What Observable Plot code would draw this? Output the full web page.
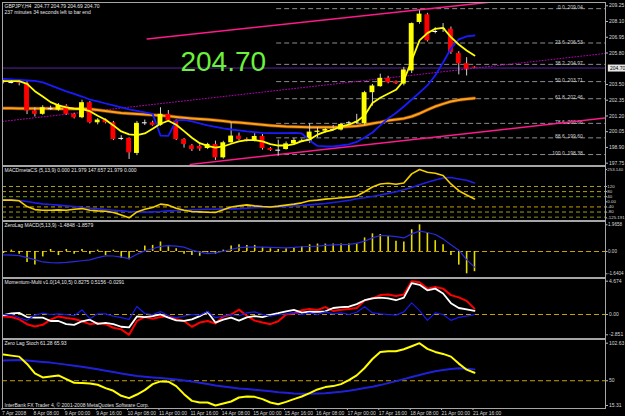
<!DOCTYPE html>
<html><head><meta charset="utf-8">
<script src="https://cdn.jsdelivr.net/npm/d3@7"></script>
<script src="https://cdn.jsdelivr.net/npm/@observablehq/plot@0.6"></script>
<style>
html,body{margin:0;padding:0;background:#000;}
#chart{position:relative;width:625px;height:416px;background:#000;overflow:hidden;}
#chart svg{position:absolute;left:0;}
</style></head><body><div id="chart"></div>
<script>
// ---------- DATA ----------
const timeLabels = ["7 Apr 2008","8 Apr 08:00","9 Apr 00:00","9 Apr 16:00","10 Apr 08:00","11 Apr 00:00","11 Apr 16:00","14 Apr 08:00","15 Apr 00:00","15 Apr 16:00","16 Apr 08:00","17 Apr 00:00","17 Apr 16:00","18 Apr 08:00","21 Apr 00:00","21 Apr 16:00"];
const timeLabelBars = [0,4,8,12,16,20,24,28,32,36,40,44,48,52,56,60];

const open = [203.70,203.62,203.66,203.58,201.56,201.32,201.74,201.63,201.92,201.32,
 201.07,202.17,200.70,200.90,200.70,199.57,199.56,198.46,200.69,200.70,
 200.51,201.32,200.83,199.48,199.02,198.98,198.82,199.12,198.14,199.24,
 199.73,199.48,199.36,199.70,198.82,198.71,198.75,199.16,199.37,199.34,
 200.00,200.09,200.22,200.17,200.71,200.76,200.63,202.90,203.34,203.95,
 203.70,203.53,204.49,208.03,208.59,207.38,207.61,207.54,205.76,205.02,
 204.77];
const high = [203.82,203.78,203.86,203.74,201.80,201.95,201.92,202.10,202.02,201.40,
 202.35,202.25,201.00,200.98,200.80,199.75,199.60,200.80,200.90,200.82,
 201.80,201.60,200.92,199.55,199.12,199.10,199.20,199.36,199.35,200.70,
 199.95,199.60,199.90,199.85,198.90,199.43,199.30,199.55,199.50,200.63,
 200.35,200.30,200.50,200.65,200.80,201.32,203.00,203.50,204.25,204.10,
 203.75,204.75,208.00,208.88,208.70,207.65,207.95,207.70,205.90,205.46,
 204.79];
const low = [203.55,203.55,203.40,201.30,201.12,201.25,201.60,201.55,201.25,200.98,
 201.00,200.62,200.55,200.62,199.40,199.40,198.02,198.30,200.50,200.45,
 200.45,200.75,199.40,198.85,198.60,198.62,198.75,197.95,198.05,199.20,
 199.40,199.30,199.30,198.70,198.60,198.26,198.70,199.10,199.25,199.20,
 199.60,199.95,200.10,200.10,200.60,200.60,200.50,201.92,203.30,203.55,
 203.50,203.40,204.30,207.90,206.60,207.20,207.30,205.70,204.20,204.12,
 204.69];
const close = [203.62,203.64,203.60,201.56,201.32,201.80,201.73,201.98,201.32,201.07,
 202.17,200.70,200.90,200.70,199.48,199.56,198.50,200.66,200.70,200.51,
 201.32,200.83,199.48,199.12,198.75,198.78,199.12,198.14,199.24,199.73,
 199.48,199.36,199.70,198.82,198.68,198.70,199.16,199.41,199.36,200.02,
 200.09,200.21,200.21,200.58,200.70,200.75,202.90,203.39,203.95,203.63,
 203.56,204.56,207.95,208.64,206.69,207.37,207.60,205.83,205.02,204.61,
 204.70];

const maYellow = [203.74,203.74,203.74,203.55,203.01,202.62,202.21,201.97,201.82,201.73,
 201.70,201.55,201.21,200.92,200.51,200.07,199.85,199.80,199.92,200.26,
 200.63,200.85,200.56,200.09,199.61,199.21,199.02,198.88,198.97,199.17,
 199.34,199.43,199.43,199.34,199.14,199.04,199.04,199.14,199.36,199.48,
 199.83,200.05,200.19,200.43,200.56,200.80,201.24,202.14,202.53,202.82,
 203.11,203.79,205.25,206.72,207.25,207.57,207.64,206.96,206.42,205.98,
 205.62];
const maBlue = [203.90,203.87,203.83,203.79,203.76,203.65,203.43,203.21,202.99,202.81,
 202.62,202.40,202.26,202.11,201.97,201.82,201.68,201.57,201.46,201.35,
 199.77,199.74,200.87,200.91,200.80,200.65,200.51,200.40,200.29,200.21,
 200.14,200.07,200.02,199.97,199.94,199.94,199.94,199.96,199.92,199.41,
 199.01,198.97,198.97,199.04,199.12,199.30,199.63,199.99,200.51,201.02,
 201.42,201.89,202.40,202.91,203.43,204.16,205.11,206.13,206.79,207.01,
 207.08];
const maOrange = [201.76,201.76,201.75,201.75,201.75,201.74,201.74,201.73,201.73,201.72,
 201.72,201.71,201.64,201.57,201.49,201.42,201.38,201.35,201.31,201.27,
 201.24,201.20,201.13,201.07,201.02,200.98,200.94,200.89,200.83,200.76,
 200.72,200.67,200.62,200.56,200.51,200.47,200.43,200.41,200.39,200.38,
 200.38,200.38,200.38,200.40,200.43,200.47,200.54,200.65,200.75,200.87,
 200.94,201.02,201.16,201.38,201.64,201.89,202.08,202.26,202.37,202.44,
 202.50];

const currentPrice = 204.70;
const bigLabelAt = {bar: 28, price: 205.15};
const priceTicks = [209.25,208.10,206.95,205.80,203.50,202.35,201.20,200.05,198.90,197.75];

const fibLevelNames = ["0.0","23.6","38.2","50.0","61.8","78.6","88.6","100.0"];
const fibPrices = [209.04,206.53,204.97,203.71,202.46,200.66,199.60,198.38];
const fibStartBar = 34.8, fibLabelBar = 73.8;

const channelUpper = [{bar: 18.3, price: 206.82}, {bar: 76.7, price: 210.42}];
const channelLower = [{bar: 23.8, price: 197.66}, {bar: 76.7, price: 201.05}];
const channelMid   = [{bar: -0.13, price: 200.80}, {bar: 76.7, price: 205.77}];

const macdMain = [13,13,8,-37,-61,-66,-66,-63,-66,-58,
 -53,-66,-71,-74,-84,-103,-125.191,-79,-58,-45,
 -18,-26,-50,-66,-76,-79,-82,-84,-63,-40,
 -32,-24,-32,-37,-40,-34,-26,-18,-8,8,
 13,21,26,32,37,45,79,116,140,145,
 137,148,219,253.14,232,224,206,140,87,53,
 21.979];
const macdSignal = [13,13,10,2,-8,-16,-21,-26,-32,-37,
 -45,-50,-55,-61,-66,-71,-76,-79,-82,-79,
 -76,-71,-68,-66,-63,-61,-58,-58,-55,-55,
 -53,-50,-47,-45,-42,-40,-37,-32,-29,-24,
 -18,-13,-5,3,11,24,32,42,53,66,
 79,95,113,134,153,171,187,190,179,169,
 147.657];
const macdLevels = [120,80,40,-40,-80,-120];
const macdLevelColors = ["#a8a020","#b0a000","#7f9a18","#c8a000","#a0a010","#8a8a28"];
const macdTicks = [253.14,120,80,40,0,-40,-80,-125.191];
const macdTickLabels = ["253.140","120","80","40","0.00","-40","-80","-125.191"];

const zlHist = [-0.15,0.1,-0.2,-0.8,-1.0,-0.4,0.15,-0.3,0.15,-0.2,
 0.15,-0.2,0.1,-0.3,0.1,-0.5,-0.6,0.1,0.4,0.45,
 0.7,0.4,0.2,-0.2,-0.3,-0.35,-0.1,-0.2,0.1,0.4,
 0.5,0.45,0.45,0.3,0.2,0.15,0.2,0.3,0.35,0.5,
 0.55,0.55,0.55,0.55,0.55,0.6,1.0,1.3,1.25,1.1,
 0.75,0.7,1.6,1.9658,1.4,0.8,0.5,-0.3,-1.0,-1.6404,
 -1.4848];
const zlSignal = [-0.25,-0.27,-0.3,-0.45,-0.6,-0.77,-0.82,-0.84,-0.8,-0.74,
 -0.68,-0.61,-0.45,-0.32,-0.33,-0.42,-0.52,-0.2,0.05,0.2,
 0.38,0.44,0.4,0.32,0.1,-0.05,-0.15,-0.1,0.02,0.15,
 0.28,0.32,0.32,0.32,0.3,0.28,0.27,0.3,0.35,0.37,
 0.4,0.45,0.49,0.5,0.52,0.6,0.76,1.0,1.18,1.15,
 1.1,1.0,1.3,1.5,1.4,1.25,0.93,0.5,0.1,-0.6,
 -1.15];
const zlTicks = [1.9658,0,-1.6404];
const zlTickLabels = ["1.9658","0.00","-1.6404"];

const momRed = [-0.27,-0.36,-0.68,-1.36,-1.68,-1.45,-0.73,-0.27,-0.50,-0.64,
 -0.95,-1.36,-1.18,-1.36,-1.86,-2.09,-2.851,-0.91,-0.36,-0.59,
 -0.36,-0.23,-0.68,-0.91,-1.72,-1.13,-0.91,-1.27,-0.27,0,
 0.68,-0.18,-0.86,-1.13,-1.36,-0.95,0,0.18,0.59,0.77,
 0.64,1.04,0.50,0.68,0.77,0.91,1.95,2.27,2.72,2.81,
 2.59,2.81,4.674,4.54,3.63,3.86,3.63,2.72,2.40,1.91,
 0.8275];
const momWhite = [-0.09,0.14,0.23,-0.36,-0.45,-0.45,-0.91,-0.91,-1.36,-1.45,
 -0.95,-0.73,-1.32,-1.18,-1.36,-1.72,-1.81,-0.27,-0.36,-0.23,
 0,-0.45,-0.82,-0.91,-0.68,-0.23,0.36,-1.13,-0.73,-0.45,
 -0.86,-0.41,-0.23,-0.36,-0.05,0.18,0.45,0.64,0.27,0.41,
 0.36,0.45,0.91,1.04,1.09,1.45,2.0,2.27,2.36,2.27,
 2.0,2.36,4.40,4.17,3.40,3.63,2.95,1.59,0.91,0.73,
 0.5156];
const momBlue = [0,0,-0.45,-0.82,-0.09,0.18,0,0.09,0,-0.18,
 0.64,-0.59,0.09,0.09,-0.23,-0.45,-0.68,1.13,0.14,0,
 0.41,-0.18,-0.45,-0.23,0,-0.09,0.41,-0.45,-0.23,0,
 -0.18,0.23,0.36,0,-0.23,0,0.09,0.23,0,0.23,
 0,0.36,0.09,0.23,0,0.32,1.09,0.23,0.09,0,
 -0.09,0.36,1.63,0.54,-0.82,0.23,0,-0.82,-0.41,-0.23,
 -0.0291];
const momTicks = [4.674,0,-2.851];
const momTickLabels = ["4.674","0.00","-2.851"];

const stochMain = [86.7,85.2,83.8,73.5,60.3,54.7,56.1,57.5,52.3,47.2,
 46.7,46.2,44.4,39.7,35.9,28.9,25.6,30.7,36.8,45.3,
 49.1,48.6,42.5,31.2,21.8,19.5,19.5,15.31,18.0,20.9,
 26.5,27.9,27.4,24.2,19.5,17.1,20.4,24.2,27.9,32.6,
 37.8,41.1,42.5,45.3,50.9,57.5,67.9,80.5,90.4,91.4,
 91.4,94.2,98.4,102.63,94.6,90.4,87.6,83.8,74.0,65.5,
 61.28];
const stochSignal = [78.2,78.7,79.1,78.2,77.3,76.3,75.4,74.0,72.6,71.1,
 69.7,67.9,66.0,64.1,62.2,60.3,58.5,56.6,55.6,54.7,
 53.8,52.8,51.9,50.5,49.1,47.2,45.3,43.4,42.0,40.6,
 39.2,38.3,37.3,36.4,35.4,34.0,33.1,32.1,31.7,31.7,
 32.1,32.6,33.6,34.5,35.9,37.8,39.7,41.5,43.9,46.7,
 49.5,52.3,55.2,58.0,60.8,63.2,65.0,66.4,67.4,66.9,
 65.93];
const stochTicks = [102.63,50,15.31];
const stochTickLabels = ["102.63","50","15.31"];

const headerMain = ["GBPJPY,H4  204.77 204.79 204.69 204.70", "237 minutes 34 seconds left to bar end"];
const headerMacd = "MACDmetaCS (5,13,9) 0.000 21.979 147.657 21.979 0.000";
const headerZl = "ZeroLag MACD(5,13,9) -1.4848 -1.8579";
const headerMom = "Momentum-Multi v1.0(14,10,5) 0.8275 0.5156 -0.0291";
const headerStoch = "Zero Lag Stoch 61.28 65.93";
const watermark = "InterBank FX Trader 4, \u00a9 2001-2008 MetaQuotes Software Corp.";

// ---------- RENDER ----------
const FONT = "Liberation Sans, Arial, sans-serif";
const X_DOMAIN = [-0.127, 76.69];
const chart = document.getElementById("chart");
const series = (arr) => arr.map((v, i) => ({i, v}));
const candles = open.map((o, i) => ({i, o, h: high[i], l: low[i], c: close[i]}));
const doji = candles.filter(d => Math.abs(d.c - d.o) < 0.025);
const bodies = candles.filter(d => Math.abs(d.c - d.o) >= 0.025);

function pane(top, height, mt, mb, yDomain, ticks, fmt, marks, extra = {}) {
  const fs = extra.axisFont || 5;
  const svg = Plot.plot({
    width: 625, height, marginLeft: 2, marginRight: 20, marginTop: mt, marginBottom: mb,
    style: {background: "transparent", color: "#d8d8d8", fontFamily: FONT, fontSize: "5px"},
    x: {domain: X_DOMAIN, axis: null},
    y: {domain: yDomain, axis: null},
    marks: [
      ...marks,
      Plot.axisY({anchor: "right", ticks, tickFormat: fmt, tickSize: extra.tickSize ?? 2, tickPadding: extra.tickPadding ?? 1.5, label: null, fontSize: fs, stroke: "#bbbbbb"}),
      ...(extra.after || []),
      Plot.frame({stroke: "#a6a6a6", strokeWidth: 1})
    ]
  });
  svg.style.top = top + "px";
  chart.appendChild(svg);
  return svg;
}

const headerText = (txt, dy = 2) => Plot.text([txt], {frameAnchor: "top-left", text: d => d, dx: 2, dy, textAnchor: "start", lineAnchor: "top", fill: "#e8e8e8", fontSize: 5});

// Pane 1: price
pane(0, 167, 2, 2, [197.58, 209.49], priceTicks, d => d.toFixed(2), [
  Plot.ruleY(fibPrices, {y: d => d, x1: fibStartBar, x2: X_DOMAIN[1], stroke: "#8c8c8c", strokeDasharray: "5,3", clip: true}),
  Plot.text(fibPrices, {x: fibLabelBar, y: d => d, text: (d, k) => fibLevelNames[k] + "  " + d.toFixed(2), textAnchor: "end", lineAnchor: "bottom", dy: 0.5, fill: "#d0d0d0", fontSize: 5}),
  Plot.line(channelMid, {x: "bar", y: "price", stroke: "#b400b4", strokeDasharray: "1,2", strokeWidth: 1, clip: true}),
  Plot.line(channelUpper, {x: "bar", y: "price", stroke: "#ff1a8c", strokeWidth: 1.5, clip: true}),
  Plot.line(channelLower, {x: "bar", y: "price", stroke: "#ff1a8c", strokeWidth: 1.5, clip: true}),
  Plot.ruleY([currentPrice], {stroke: "#5a24a0", strokeWidth: 1, clip: true}),
  Plot.line(series(maOrange), {x: "i", y: "v", stroke: "#c86400", strokeWidth: 3.5, strokeOpacity: 0.6, clip: true}),
  Plot.line(series(maOrange), {x: "i", y: "v", stroke: "#ffa21a", strokeWidth: 2, clip: true}),
  Plot.ruleX(candles, {x: "i", y1: "l", y2: "h", stroke: "#cfcfcf", strokeWidth: 1, clip: true}),
  Plot.rect(bodies, {x1: d => d.i - 0.31, x2: d => d.i + 0.31, y1: "o", y2: "c", fill: d => d.c > d.o ? "#ffff00" : "#ff0000", clip: true}),
  Plot.ruleY(doji, {y: "c", x1: d => d.i - 0.31, x2: d => d.i + 0.31, stroke: "#ffffff", strokeWidth: 1, clip: true}),
  Plot.line(series(maBlue), {x: "i", y: "v", stroke: "#1a1aff", strokeWidth: 1.8, clip: true}),
  Plot.line(series(maYellow), {x: "i", y: "v", stroke: "#ffff00", strokeWidth: 1.8, clip: true}),
  Plot.text([bigLabelAt], {x: "bar", y: "price", text: () => currentPrice.toFixed(2), fill: "#6cf23c", fontSize: 28, fontFamily: "Liberation Sans, Arial, sans-serif"}),
  headerText(headerMain[0], 2),
  headerText(headerMain[1], 7.5)
], {after: [
  Plot.ruleY([currentPrice], {x1: 77.05, x2: 79.4, stroke: "#e6e6e6", strokeWidth: 7}),
  Plot.text([currentPrice], {x: 77.25, y: d => d, text: d => d.toFixed(2), textAnchor: "start", fill: "#000", fontSize: 5})
]});

// Pane 2: MACDmetaCS
pane(165, 57, 1, 2, [-146.3, 276.6], macdTicks, d => macdTickLabels[macdTicks.indexOf(d)], [
  Plot.ruleY(macdLevels, {y: d => d, stroke: (d, k) => macdLevelColors[k], strokeDasharray: "4,3", strokeWidth: 1}),
  Plot.line(series(macdSignal), {x: "i", y: "v", stroke: "#1e1ee6", strokeWidth: 1.6, clip: true}),
  Plot.line(series(macdMain), {x: "i", y: "v", stroke: "#f5d000", strokeWidth: 1.6, clip: true}),
  headerText(headerMacd, 2)
], {axisFont: 4.4, tickSize: 1, tickPadding: 0.8});

// Pane 3: ZeroLag MACD
pane(220, 58, 1, 1, [-1.913, 2.209], zlTicks, d => zlTickLabels[zlTicks.indexOf(d)], [
  Plot.ruleY([0], {stroke: "#c8a000", strokeDasharray: "5,3"}),
  Plot.ruleX(series(zlHist), {x: "i", y1: 0, y2: "v", stroke: "#e6dc00", strokeWidth: 1.6, clip: true}),
  Plot.line(series(zlSignal), {x: "i", y: "v", stroke: "#2a2ae0", strokeWidth: 1.2, clip: true}),
  headerText(headerZl, 2)
], {axisFont: 4.6, tickSize: 1.5, tickPadding: 1});

// Pane 4: Momentum-Multi
pane(277, 62, 1, 1, [-3.370, 5.053], momTicks, d => momTickLabels[momTicks.indexOf(d)], [
  Plot.ruleY([0], {stroke: "#c8a000", strokeDasharray: "5,3"}),
  Plot.line(series(momRed), {x: "i", y: "v", stroke: "#ff0000", strokeWidth: 2, clip: true}),
  Plot.line(series(momWhite), {x: "i", y: "v", stroke: "#ffffff", strokeWidth: 1.8, clip: true}),
  Plot.line(series(momBlue), {x: "i", y: "v", stroke: "#1818f0", strokeWidth: 1.2, clip: true}),
  headerText(headerMom, 2)
]);

// Pane 5: Zero Lag Stoch + time axis
pane(338, 78, 1, 8, [11.1, 107.8], stochTicks, d => stochTickLabels[stochTicks.indexOf(d)], [
  Plot.ruleY([50], {stroke: "#c8a000", strokeDasharray: "5,3"}),
  Plot.line(series(stochSignal), {x: "i", y: "v", stroke: "#2020d8", strokeWidth: 2, clip: true}),
  Plot.line(series(stochMain), {x: "i", y: "v", stroke: "#ffff00", strokeWidth: 2, clip: true}),
  headerText(headerStoch, 2),
  Plot.text([watermark], {frameAnchor: "bottom-left", text: d => d, dx: 2, dy: -2, textAnchor: "start", lineAnchor: "bottom", fill: "#e0e0e0", fontSize: 5}),
  Plot.axisX({anchor: "bottom", ticks: timeLabelBars, tickFormat: d => timeLabels[timeLabelBars.indexOf(d)], tickSize: 2, tickPadding: 1, textAnchor: "start", dx: -1.5, label: null, fontSize: 5, stroke: "#bbbbbb"})
]);
</script>
</body></html>
